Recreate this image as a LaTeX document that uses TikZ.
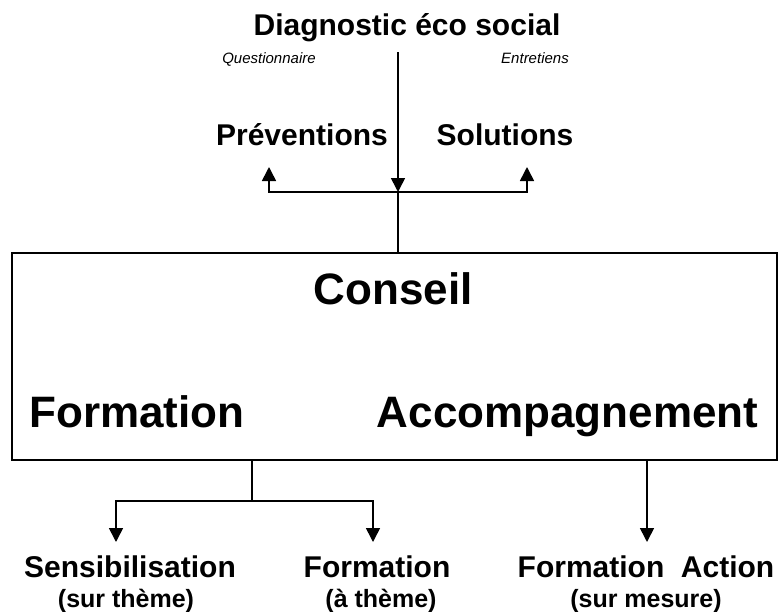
\documentclass[tikz,border=0pt]{standalone}
\usepackage{fontspec}
\setmainfont{Liberation Sans}
\usetikzlibrary{arrows.meta}
\tikzset{
  ln/.style={line width=1.6pt, line cap=rect},
  arr/.style={ln, -{Triangle[width=14pt,length=14pt]}},
  big/.style={font=\fontsize{44}{50}\selectfont\bfseries, anchor=base, inner sep=0pt},
  mid/.style={font=\fontsize{30}{36}\selectfont\bfseries, anchor=base, inner sep=0pt},
  sub/.style={font=\fontsize{25}{30}\selectfont\bfseries, anchor=base, inner sep=0pt},
  note/.style={font=\fontsize{15}{18}\selectfont\itshape, anchor=base, inner sep=0pt},
  frame/.style={draw, line width=1.8pt, minimum width=765pt, minimum height=207pt, inner sep=0pt}
}
\begin{document}
\begin{tikzpicture}[x=1pt,y=-1pt]
\useasboundingbox (0,0) rectangle (782,611);
% texts top
\node[mid] (diag) at (407,35) {Diagnostic éco social};
\node[note] (quest) at (269,63) {Questionnaire};
\node[note] (entr) at (535,63) {Entretiens};
\node[mid] (prev) at (302,145) {Préventions};
\node[mid] (sol) at (505,145) {Solutions};
% main box
\node[frame] (box) at (394.5,356.5) {};
\node[big] (conseil) at (393,304) {Conseil};
\node[big] (form) at (137,427) {Formation};
\node[big] (accomp) at (567.5,427) {Accompagnement};
% bottom texts
\node[mid] (sens) at (130,577) {Sensibilisation};
\node[sub] (sens2) at (126,607) {(sur thème)};
\node[mid] (form2) at (377,577) {Formation};
\node[sub] (form3) at (381,607) {(à thème)};
\node[mid] (fa) at (646,577) {Formation\ \ Action};
\node[sub] (fa2) at (646,607) {(sur mesure)};
% connector coordinates
\coordinate (start) at (398,53);
\coordinate (j1) at (398,192);
\coordinate (pa) at (269,167);
\coordinate (sa) at (527,167);
\coordinate (j2) at (252,501);
\coordinate (a1) at (116,542);
\coordinate (a2) at (373,542);
\coordinate (a3) at (647,542);
% connectors top
\draw[arr] (start) -- (j1);
\draw[ln] (j1) -- (box.north -| j1);
\draw[arr] (j1) -| (pa);
\draw[arr] (j1) -| (sa);
% connectors bottom
\draw[ln] (box.south -| j2) -- (j2);
\draw[arr] (j2) -| (a1);
\draw[arr] (j2) -| (a2);
\draw[arr] (box.south -| a3) -- (a3);
\end{tikzpicture}
\end{document}
